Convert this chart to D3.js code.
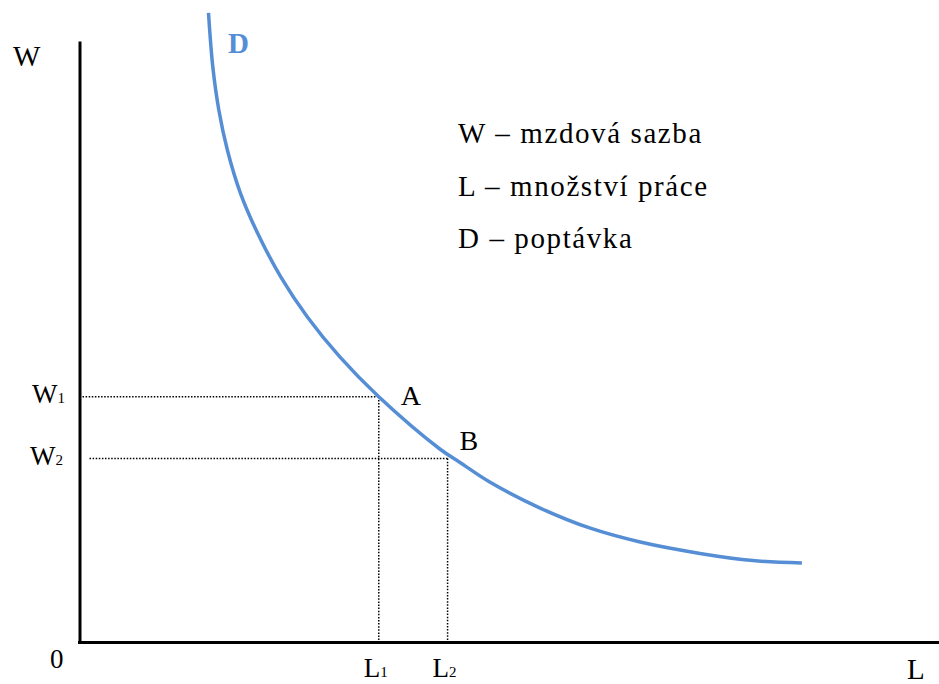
<!DOCTYPE html>
<html>
<head>
<meta charset="utf-8">
<script src="https://cdn.jsdelivr.net/npm/d3@7"></script>
<style>
  body { margin: 0; background: #fff; }
</style>
</head>
<body>
<div id="chart"></div>
<script>
/*******************************/
/*            Data             */
/*******************************/

// demand curve D (L = quantity of labour, W = wage)
var demandL = [15.0, 15.5, 16.2, 17.2, 18.7, 20.7, 23.4, 26.5, 30.3, 34.8, 41.9, 44.2, 47.7, 53.5, 59.4, 65.2, 72.15, 78.3, 84.0];
var demandW = [104.7, 95.7, 88.5, 81.8, 74.7, 68.0, 60.7, 54.0, 47.3, 40.7, 32.0, 29.8, 26.5, 22.2, 18.8, 16.5, 14.6, 13.4, 13.0];

// the two marked points on the curve
var pointNames = ["A", "B"];
var pointL = [34.8, 42.8];
var pointW = [40.7, 30.4];
var pointIdx = ["1", "2"];

var legendLines = ["W – mzdová sazba", "L – množství práce", "D – poptávka"];

/*******************************/
/*           Setup             */
/*******************************/

var width = 939,
    height = 684;

var serif = "'Liberation Serif'";

var x = d3.scaleLinear().domain([0, 100]).range([79.5, 939.5]);
var y = d3.scaleLinear().domain([0, 100]).range([641, 41]);

var svg = d3.select("#chart").append("svg")
  .attr("width", width)
  .attr("height", height);

/*******************************/
/*            Axes             */
/*******************************/

var xAxis = svg.append("g")
  .attr("transform", "translate(0," + (y(0) + 1.5) + ")")
  .call(d3.axisBottom(x).tickValues([]).tickSizeOuter(0));

var yAxis = svg.append("g")
  .attr("transform", "translate(" + x(0) + ",0)")
  .call(d3.axisLeft(y).tickValues([]).tickSizeOuter(0));

svg.selectAll(".domain")
  .attr("stroke", "#000")
  .attr("stroke-width", 3);

// nudge the x-axis domain so it meets the y-axis corner
xAxis.select(".domain").attr("d", "M" + (x(0) - 1.5) + ",0H" + x(100));

/*******************************/
/*       Guide (dotted)        */
/*******************************/

var guides = svg.append("g")
  .attr("stroke", "#000")
  .attr("stroke-width", 1.5)
  .attr("stroke-dasharray", "1.5,1.6")
  .attr("fill", "none");

var hStart = [x(0) + 3, x(0) + 10]; // W2 line starts a bit further from the axis

pointL.forEach(function(l, i) {
  guides.append("line")
    .attr("x1", hStart[i]).attr("x2", x(l))
    .attr("y1", y(pointW[i])).attr("y2", y(pointW[i]));
  guides.append("line")
    .attr("x1", x(l)).attr("x2", x(l))
    .attr("y1", y(pointW[i])).attr("y2", y(0));
});

/*******************************/
/*        Demand curve         */
/*******************************/

var line = d3.line()
  .x(function(d, i) { return x(demandL[i]); })
  .y(function(d, i) { return y(demandW[i]); })
  .curve(d3.curveCatmullRom.alpha(0.5));

svg.append("path")
  .datum(demandL)
  .attr("d", line)
  .attr("fill", "none")
  .attr("stroke", "#558ed5")
  .attr("stroke-width", 3.5);

svg.append("text")
  .attr("x", 228).attr("y", 53)
  .style("font-family", serif)
  .style("font-size", "29px")
  .style("font-weight", "bold")
  .style("fill", "#558ed5")
  .text("D");

/*******************************/
/*           Labels            */
/*******************************/

function label(tx, ty, size, txt) {
  return svg.append("text")
    .attr("x", tx).attr("y", ty)
    .style("font-family", serif)
    .style("font-size", size + "px")
    .text(txt);
}

label(13, 66, 29, "W");
label(50, 668, 27, "0");
label(907, 679, 29, "L");

// W1, W2 on the y-axis
var wLab = [403, 465];
var wX = [32, 30];
pointIdx.forEach(function(s, i) {
  var t = label(wX[i], wLab[i], 27, "");
  t.append("tspan").text("W");
  t.append("tspan").style("font-size", "15px").text(s);
});

// L1, L2 on the x-axis
pointIdx.forEach(function(s, i) {
  var t = label(x(pointL[i]) - 15, 677, 27, "");
  t.append("tspan").text("L");
  t.append("tspan").style("font-size", "15px").text(s);
});

// A, B next to the curve
var ptDx = [22, 12];
var ptDy = [8, -9];
pointNames.forEach(function(n, i) {
  label(x(pointL[i]) + ptDx[i], y(pointW[i]) + ptDy[i], 28, n);
});

// legend text
legendLines.forEach(function(d, i) {
  label(458, 143 + i * 52.5, 29, d).style("letter-spacing", "1.6px");
});
</script>
</body>
</html>
